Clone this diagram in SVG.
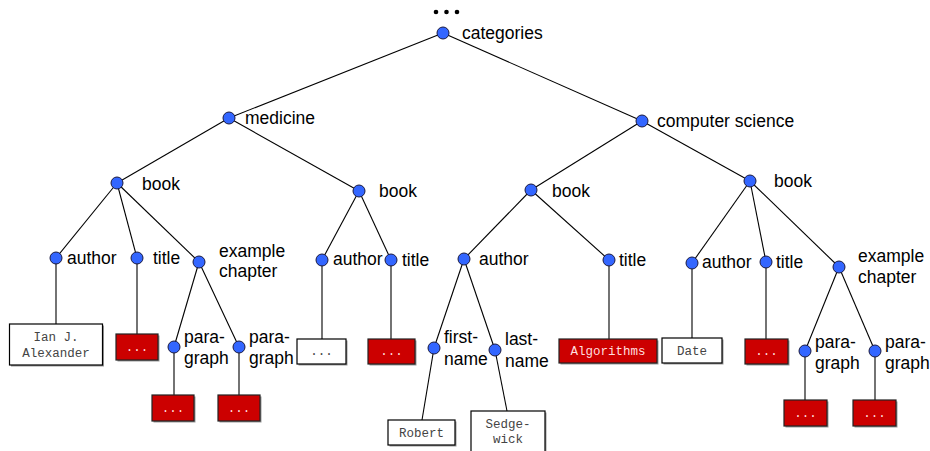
<svg xmlns="http://www.w3.org/2000/svg" width="930" height="451" viewBox="0 0 930 451">
<style>
.e{stroke:#000;stroke-width:1.1;fill:none}
.n{fill:#3366ff;stroke:#1a1a40;stroke-width:1}
.l{font-family:"Liberation Sans",Arial,sans-serif;font-size:17.5px;fill:#000}
.bw{fill:#fff;stroke:#000;stroke-width:1.2}
.br{fill:#cc0000;stroke:#222;stroke-width:1.2}
.sh{fill:#999}
.tw{font-family:"Liberation Mono","Courier New",monospace;font-size:12.5px;fill:#444;text-anchor:middle}
.tr{font-family:"Liberation Mono","Courier New",monospace;font-size:12.5px;fill:#ffdede;text-anchor:middle}
</style>
<rect width="930" height="451" fill="#fff"/>
<g id="connectors">
<line class="e" x1="443" y1="33" x2="229" y2="118"/>
<line class="e" x1="443" y1="33" x2="642" y2="121"/>
<line class="e" x1="229" y1="118" x2="117" y2="183"/>
<line class="e" x1="229" y1="118" x2="359" y2="191"/>
<line class="e" x1="642" y1="121" x2="531" y2="190"/>
<line class="e" x1="642" y1="121" x2="750" y2="181"/>
<line class="e" x1="117" y1="183" x2="56" y2="258"/>
<line class="e" x1="117" y1="183" x2="137" y2="258"/>
<line class="e" x1="117" y1="183" x2="199" y2="262"/>
<line class="e" x1="359" y1="191" x2="322" y2="260"/>
<line class="e" x1="359" y1="191" x2="391" y2="260"/>
<line class="e" x1="531" y1="190" x2="464" y2="259"/>
<line class="e" x1="531" y1="190" x2="609" y2="260"/>
<line class="e" x1="750" y1="181" x2="692" y2="263"/>
<line class="e" x1="750" y1="181" x2="766" y2="262"/>
<line class="e" x1="750" y1="181" x2="839" y2="267"/>
<line class="e" x1="199" y1="262" x2="174" y2="347"/>
<line class="e" x1="199" y1="262" x2="239" y2="347"/>
<line class="e" x1="464" y1="259" x2="434" y2="348"/>
<line class="e" x1="464" y1="259" x2="495" y2="350"/>
<line class="e" x1="839" y1="267" x2="805" y2="351"/>
<line class="e" x1="839" y1="267" x2="875" y2="351"/>
<line class="e" x1="56" y1="258" x2="56" y2="324"/>
<line class="e" x1="137" y1="258" x2="137" y2="334"/>
<line class="e" x1="174" y1="347" x2="174" y2="395"/>
<line class="e" x1="239" y1="347" x2="239" y2="395"/>
<line class="e" x1="322" y1="260" x2="322" y2="339"/>
<line class="e" x1="391" y1="260" x2="391" y2="339"/>
<line class="e" x1="434" y1="348" x2="422" y2="420"/>
<line class="e" x1="495" y1="350" x2="507" y2="411"/>
<line class="e" x1="609" y1="260" x2="609" y2="339"/>
<line class="e" x1="692" y1="263" x2="692" y2="338"/>
<line class="e" x1="766" y1="262" x2="766" y2="339"/>
<line class="e" x1="805" y1="351" x2="805" y2="400"/>
<line class="e" x1="875" y1="351" x2="875" y2="400"/>
</g>
<g id="dots">
<circle cx="436" cy="12" r="2.3" fill="#000"/>
<circle cx="446.5" cy="12" r="2.3" fill="#000"/>
<circle cx="457" cy="12" r="2.3" fill="#000"/>
</g>
<g id="categories"><circle class="n" cx="443" cy="33" r="6"/><text class="l" x="462" y="39">categories</text></g>
<g id="medicine"><circle class="n" cx="229" cy="118" r="6"/><text class="l" x="245" y="124">medicine</text></g>
<g id="computer-science"><circle class="n" cx="642" cy="121" r="6"/><text class="l" x="657" y="127">computer science</text></g>
<g id="book-l1"><circle class="n" cx="117" cy="183" r="6"/><text class="l" x="142" y="190">book</text></g>
<g id="book-l2"><circle class="n" cx="359" cy="191" r="6"/><text class="l" x="379" y="197">book</text></g>
<g id="book-r1"><circle class="n" cx="531" cy="190" r="6"/><text class="l" x="552" y="197">book</text></g>
<g id="book-r2"><circle class="n" cx="750" cy="181" r="6"/><text class="l" x="774" y="187">book</text></g>
<g id="author-l1"><circle class="n" cx="56" cy="258" r="6"/><text class="l" x="67" y="264">author</text></g>
<g id="title-l1"><circle class="n" cx="137" cy="258" r="6"/><text class="l" x="153" y="264">title</text></g>
<g id="chapter-l1"><circle class="n" cx="199" cy="262" r="6"/><text class="l" x="219" y="257">example</text><text class="l" x="219" y="277">chapter</text></g>
<g id="author-l2"><circle class="n" cx="322" cy="260" r="6"/><text class="l" x="333" y="265">author</text></g>
<g id="title-l2"><circle class="n" cx="391" cy="260" r="6"/><text class="l" x="402" y="266">title</text></g>
<g id="author-r1"><circle class="n" cx="464" cy="259" r="6"/><text class="l" x="479" y="265">author</text></g>
<g id="title-r1"><circle class="n" cx="609" cy="260" r="6"/><text class="l" x="619" y="266">title</text></g>
<g id="author-r2"><circle class="n" cx="692" cy="263" r="6"/><text class="l" x="702" y="268">author</text></g>
<g id="title-r2"><circle class="n" cx="766" cy="262" r="6"/><text class="l" x="776" y="268">title</text></g>
<g id="chapter-r2"><circle class="n" cx="839" cy="267" r="6"/><text class="l" x="858" y="262">example</text><text class="l" x="858" y="283">chapter</text></g>
<g id="para-l1a"><circle class="n" cx="174" cy="347" r="6"/><text class="l" x="184" y="343">para-</text><text class="l" x="184" y="364">graph</text></g>
<g id="para-l1b"><circle class="n" cx="239" cy="347" r="6"/><text class="l" x="249" y="343">para-</text><text class="l" x="249" y="364">graph</text></g>
<g id="first-name"><circle class="n" cx="434" cy="348" r="6"/><text class="l" x="444" y="343">first-</text><text class="l" x="444" y="365">name</text></g>
<g id="last-name"><circle class="n" cx="495" cy="350" r="6"/><text class="l" x="505" y="345">last-</text><text class="l" x="505" y="367">name</text></g>
<g id="para-r2a"><circle class="n" cx="805" cy="351" r="6"/><text class="l" x="815" y="348">para-</text><text class="l" x="815" y="369">graph</text></g>
<g id="para-r2b"><circle class="n" cx="875" cy="351" r="6"/><text class="l" x="885" y="348">para-</text><text class="l" x="885" y="369">graph</text></g>
<g id="box-ian"><rect class="sh" x="11" y="325.5" width="93" height="41"/><rect class="bw" x="9.5" y="324" width="93" height="41"/><text class="tw" x="56" y="341">Ian J.</text><text class="tw" x="56" y="357">Alexander</text></g>
<g id="box-title-l1"><rect class="sh" x="117.5" y="335.5" width="42" height="26"/><rect class="br" x="116" y="334" width="42" height="26"/><text class="tr" x="137" y="351" fill="#fff">...</text></g>
<g id="box-para-l1a"><rect class="sh" x="153.5" y="396.5" width="42" height="26"/><rect class="br" x="152" y="395" width="42" height="26"/><text class="tr" x="173" y="412">...</text></g>
<g id="box-para-l1b"><rect class="sh" x="219.5" y="396.5" width="42" height="26"/><rect class="br" x="218" y="395" width="42" height="26"/><text class="tr" x="239" y="412">...</text></g>
<g id="box-author-l2"><rect class="sh" x="298.5" y="340.5" width="49" height="25"/><rect class="bw" x="297" y="339" width="49" height="25"/><text class="tw" x="321.5" y="355">...</text></g>
<g id="box-title-l2"><rect class="sh" x="369.5" y="340.5" width="47" height="25"/><rect class="br" x="368" y="339" width="47" height="25"/><text class="tr" x="391.5" y="355">...</text></g>
<g id="box-robert"><rect class="sh" x="389.5" y="421.5" width="67" height="25"/><rect class="bw" x="388" y="420" width="67" height="25"/><text class="tw" x="421.5" y="437">Robert</text></g>
<g id="box-sedgewick"><rect class="sh" x="472.5" y="412.5" width="74" height="50"/><rect class="bw" x="471" y="411" width="74" height="50"/><text class="tw" x="508" y="428">Sedge-</text><text class="tw" x="508" y="443">wick</text></g>
<g id="box-algorithms"><rect class="sh" x="560.5" y="340.5" width="98" height="24"/><rect class="br" x="559" y="339" width="98" height="24"/><text class="tr" x="608" y="355">Algorithms</text></g>
<g id="box-date"><rect class="sh" x="663.5" y="339.5" width="60" height="25"/><rect class="bw" x="662" y="338" width="60" height="25"/><text class="tw" x="692" y="355">Date</text></g>
<g id="box-title-r2"><rect class="sh" x="746.5" y="340.5" width="43" height="25"/><rect class="br" x="745" y="339" width="43" height="25"/><text class="tr" x="766.5" y="355">...</text></g>
<g id="box-para-r2a"><rect class="sh" x="785.5" y="401.5" width="43" height="26"/><rect class="br" x="784" y="400" width="43" height="26"/><text class="tr" x="805.5" y="417">...</text></g>
<g id="box-para-r2b"><rect class="sh" x="854.5" y="401.5" width="43" height="26"/><rect class="br" x="853" y="400" width="43" height="26"/><text class="tr" x="874.5" y="417">...</text></g>
</svg>
